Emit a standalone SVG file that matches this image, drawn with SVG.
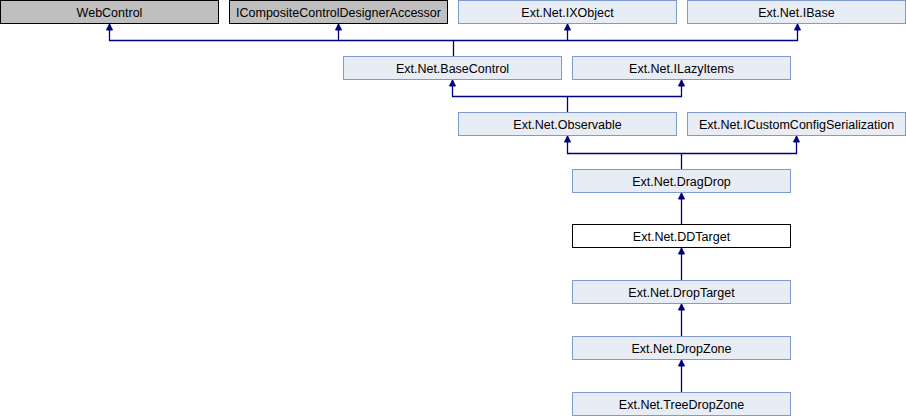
<svg xmlns="http://www.w3.org/2000/svg" width="906" height="416" viewBox="0 0 906 416">
<defs>
<style>
.n rect{fill:#E8ECF5;stroke:#7F9BCB;stroke-width:1}
.g rect{fill:#BFBFBF;stroke:#000;stroke-width:1}
.w rect{fill:#FFFFFF;stroke:#000;stroke-width:1}
text{font-family:"Liberation Sans",Arial,sans-serif;font-size:12.5px;fill:#000;text-anchor:middle}
.c path{fill:none;stroke:#000080;stroke-width:1.3}
.c polygon{fill:#000080;stroke:#000080;stroke-width:1}
</style>
<marker id="ah" markerWidth="8" markerHeight="8" refX="4" refY="0.5" orient="auto" markerUnits="userSpaceOnUse" viewBox="0 0 8 8">
<polygon points="4,0.5 7,6.5 1,6.5" fill="#000080"/>
</marker>
</defs>
<rect width="906" height="416" fill="#FFFFFF"/>
<g id="connectors" class="c">
<path d="M109.5,24 V40.5 H797.5 V24"/>
<path d="M338.5,24 V40.5"/>
<path d="M567.5,24 V40.5"/>
<path d="M453.5,40.5 V56"/>
<path d="M452.5,80 V96.5 H681.5 V80"/>
<path d="M567.5,96.5 V112"/>
<path d="M567.5,136 V153.5 H796.5 V136"/>
<path d="M681.5,153.5 V169"/>
<path d="M681.5,193 V224"/>
<path d="M681.5,248 V280"/>
<path d="M681.5,304 V336"/>
<path d="M681.5,360 V392"/>
<polygon points="109.5,24 112.5,30 106.5,30"/>
<polygon points="338.5,24 341.5,30 335.5,30"/>
<polygon points="567.5,24 570.5,30 564.5,30"/>
<polygon points="797.5,24 800.5,30 794.5,30"/>
<polygon points="452.5,80 455.5,86 449.5,86"/>
<polygon points="681.5,80 684.5,86 678.5,86"/>
<polygon points="567.5,136 570.5,142 564.5,142"/>
<polygon points="796.5,136 799.5,142 793.5,142"/>
<polygon points="681.5,193 684.5,199 678.5,199"/>
<polygon points="681.5,248 684.5,254 678.5,254"/>
<polygon points="681.5,304 684.5,310 678.5,310"/>
<polygon points="681.5,360 684.5,366 678.5,366"/>
</g>
<g id="WebControl" class="g"><rect x="0.5" y="0.5" width="218" height="23"/><text x="109.5" y="16.5">WebControl</text></g>
<g id="ICompositeControlDesignerAccessor" class="g"><rect x="229.5" y="0.5" width="218" height="23"/><text x="338.5" y="16.5">ICompositeControlDesignerAccessor</text></g>
<g id="IXObject" class="n"><rect x="458.5" y="0.5" width="218" height="23"/><text x="567.5" y="16.5">Ext.Net.IXObject</text></g>
<g id="IBase" class="n"><rect x="687.5" y="0.5" width="218" height="23"/><text x="796.5" y="16.5">Ext.Net.IBase</text></g>
<g id="BaseControl" class="n"><rect x="343.5" y="56.5" width="218" height="23"/><text x="452.5" y="72.5">Ext.Net.BaseControl</text></g>
<g id="ILazyItems" class="n"><rect x="572.5" y="56.5" width="218" height="23"/><text x="681.5" y="72.5">Ext.Net.ILazyItems</text></g>
<g id="Observable" class="n"><rect x="458.5" y="112.5" width="218" height="23"/><text x="567.5" y="128.5">Ext.Net.Observable</text></g>
<g id="ICustomConfigSerialization" class="n"><rect x="687.5" y="112.5" width="218" height="23"/><text x="796.5" y="128.5">Ext.Net.ICustomConfigSerialization</text></g>
<g id="DragDrop" class="n"><rect x="572.5" y="169.5" width="218" height="23"/><text x="681.5" y="185.5">Ext.Net.DragDrop</text></g>
<g id="DDTarget" class="w"><rect x="572.5" y="224.5" width="218" height="23"/><text x="681.5" y="240.5">Ext.Net.DDTarget</text></g>
<g id="DropTarget" class="n"><rect x="572.5" y="280.5" width="218" height="23"/><text x="681.5" y="296.5">Ext.Net.DropTarget</text></g>
<g id="DropZone" class="n"><rect x="572.5" y="336.5" width="218" height="23"/><text x="681.5" y="352.5">Ext.Net.DropZone</text></g>
<g id="TreeDropZone" class="n"><rect x="572.5" y="392.5" width="218" height="23"/><text x="681.5" y="408.5">Ext.Net.TreeDropZone</text></g>
</svg>
